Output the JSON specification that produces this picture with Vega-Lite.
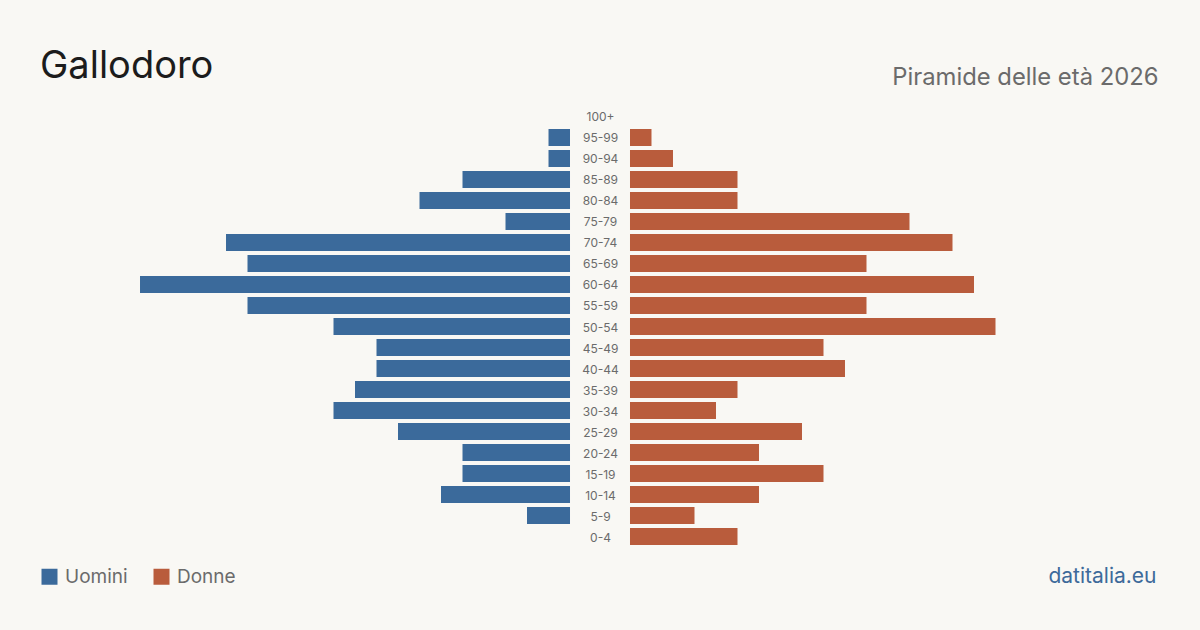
{
  "$schema": "https://vega.github.io/schema/vega-lite/v6.json",
  "width": 1200,
  "height": 630,
  "autosize": {"type": "none"},
  "padding": 0,
  "background": "#f9f8f4",
  "config": {
    "font": "Inter",
    "view": {"stroke": null},
    "axis": {"grid": false}
  },
  "title": {
    "text": "Gallodoro",
    "anchor": "start",
    "frame": "group",
    "orient": "top",
    "offset": 0,
    "baseline": "alphabetic",
    "fontSize": 38,
    "fontWeight": 400,
    "color": "#1c1c1c",
    "dx": 40,
    "dy": 116
  },
  "data": {
    "values": [
      {"eta": "100+", "uomini": 0, "donne": 0},
      {"eta": "95-99", "uomini": 1, "donne": 1},
      {"eta": "90-94", "uomini": 1, "donne": 2},
      {"eta": "85-89", "uomini": 5, "donne": 5},
      {"eta": "80-84", "uomini": 7, "donne": 5},
      {"eta": "75-79", "uomini": 3, "donne": 13},
      {"eta": "70-74", "uomini": 16, "donne": 15},
      {"eta": "65-69", "uomini": 15, "donne": 11},
      {"eta": "60-64", "uomini": 20, "donne": 16},
      {"eta": "55-59", "uomini": 15, "donne": 11},
      {"eta": "50-54", "uomini": 11, "donne": 17},
      {"eta": "45-49", "uomini": 9, "donne": 9},
      {"eta": "40-44", "uomini": 9, "donne": 10},
      {"eta": "35-39", "uomini": 10, "donne": 5},
      {"eta": "30-34", "uomini": 11, "donne": 4},
      {"eta": "25-29", "uomini": 8, "donne": 8},
      {"eta": "20-24", "uomini": 5, "donne": 6},
      {"eta": "15-19", "uomini": 5, "donne": 9},
      {"eta": "10-14", "uomini": 6, "donne": 6},
      {"eta": "5-9", "uomini": 2, "donne": 3},
      {"eta": "0-4", "uomini": 0, "donne": 5}
    ]
  },
  "layer": [
    {
      "mark": {"type": "bar"},
      "encoding": {
        "y": {
          "field": "eta",
          "type": "nominal",
          "sort": null,
          "scale": {"range": [108, 545], "paddingInner": 0.1905, "paddingOuter": 0, "round": false},
          "axis": {
            "orient": "left",
            "offset": -600,
            "title": null,
            "domain": false,
            "ticks": false,
            "tickSize": 0,
            "labelPadding": 0,
            "labelAlign": "center",
            "labelOffset": 1,
            "labelFontSize": 12,
            "labelColor": "#6b6b6b"
          }
        },
        "x": {
          "field": "uomini",
          "type": "quantitative",
          "scale": {"domain": [-29.302, 26.512], "reverse": true, "nice": false, "zero": false},
          "axis": {
            "orient": "bottom",
            "domain": false,
            "ticks": false,
            "labels": false,
            "title": "datitalia.eu",
            "titleFontSize": 21,
            "titleFontWeight": 400,
            "titleColor": "#3d6a9a",
            "titleAlign": "right",
            "titleBaseline": "alphabetic",
            "titleX": 1156,
            "titleY": -48
          }
        },
        "x2": {"datum": 0},
        "color": {
          "datum": "Uomini",
          "type": "nominal",
          "scale": {"domain": ["Uomini", "Donne"], "range": ["#3b6a9b", "#b95c3c"]},
          "legend": {
            "orient": "none",
            "legendX": 40,
            "legendY": 567,
            "direction": "horizontal",
            "title": null,
            "symbolType": "square",
            "symbolSize": 256,
            "symbolStrokeWidth": 0,
            "symbolOpacity": 1,
            "labelFontSize": 19,
            "labelColor": "#6b6b6b",
            "labelOffset": 6,
            "columnPadding": 24
          }
        }
      }
    },
    {
      "mark": {"type": "bar"},
      "encoding": {
        "y": {"field": "eta", "type": "nominal", "sort": null},
        "x": {
          "field": "donne",
          "type": "quantitative",
          "scale": {"domain": [-29.302, 26.512], "nice": false, "zero": false},
          "axis": {
            "orient": "top",
            "domain": false,
            "ticks": false,
            "labels": false,
            "title": "Piramide delle età 2026",
            "titleFontSize": 23.8,
            "titleFontWeight": 400,
            "titleColor": "#6b6b6b",
            "titleAlign": "right",
            "titleBaseline": "alphabetic",
            "titleX": 1158,
            "titleY": 84
          }
        },
        "x2": {"datum": 0},
        "color": {"datum": "Donne", "type": "nominal"}
      }
    }
  ],
  "resolve": {"scale": {"x": "independent"}, "axis": {"x": "independent"}}
}
